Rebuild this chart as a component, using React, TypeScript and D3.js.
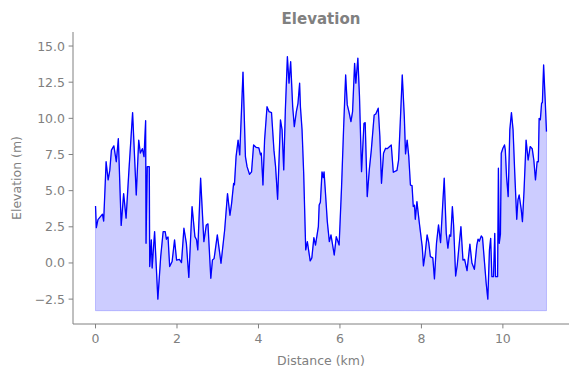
import React from "react";
import * as d3 from "d3";

const distanceKm = [
  0.0, 0.02, 0.06, 0.12, 0.17, 0.2, 0.26, 0.31, 0.35, 0.39, 0.45, 0.51, 0.56, 0.63, 0.69, 0.75, 0.82, 0.91, 1.0, 1.06,
  1.1, 1.15, 1.19, 1.23, 1.24, 1.27, 1.32, 1.33, 1.37, 1.39, 1.45, 1.53, 1.6, 1.66, 1.71, 1.74, 1.78, 1.82, 1.88, 1.94,
  1.99, 2.06, 2.11, 2.17, 2.23, 2.29, 2.37, 2.44, 2.48, 2.51, 2.58, 2.66, 2.72, 2.76, 2.83, 2.87, 2.91, 2.94, 2.99, 3.08,
  3.17, 3.24, 3.3, 3.34, 3.39, 3.41, 3.45, 3.5, 3.54, 3.62, 3.68, 3.72, 3.78, 3.83, 3.88, 3.94, 4.01, 4.05, 4.07, 4.11,
  4.15, 4.21, 4.26, 4.32, 4.38, 4.42, 4.47, 4.54, 4.58, 4.62, 4.66, 4.71, 4.75, 4.79, 4.84, 4.88, 4.93, 4.97, 5.01, 5.03,
  5.07, 5.11, 5.16, 5.2, 5.27, 5.31, 5.36, 5.4, 5.47, 5.49, 5.52, 5.56, 5.59, 5.61, 5.64, 5.69, 5.74, 5.78, 5.86, 5.91,
  5.98, 6.04, 6.09, 6.14, 6.18, 6.22, 6.27, 6.31, 6.36, 6.39, 6.44, 6.48, 6.53, 6.59, 6.62, 6.67, 6.72, 6.77, 6.84, 6.88,
  6.94, 6.98, 7.02, 7.07, 7.12, 7.16, 7.2, 7.24, 7.26, 7.31, 7.4, 7.44, 7.48, 7.53, 7.58, 7.61, 7.65, 7.69, 7.73, 7.77,
  7.8, 7.83, 7.85, 7.89, 7.95, 8.02, 8.05, 8.09, 8.14, 8.18, 8.22, 8.28, 8.32, 8.37, 8.42, 8.47, 8.52, 8.56, 8.61, 8.65,
  8.69, 8.72, 8.76, 8.79, 8.84, 8.88, 8.93, 8.97, 9.02, 9.06, 9.12, 9.19, 9.24, 9.3, 9.36, 9.39, 9.42, 9.47, 9.5, 9.55,
  9.59, 9.63, 9.67, 9.7, 9.73, 9.77, 9.8, 9.82, 9.87, 9.89, 9.91, 9.94, 9.96, 10.0, 10.04, 10.06, 10.09, 10.13, 10.17, 10.21,
  10.25, 10.29, 10.34, 10.37, 10.4, 10.45, 10.48, 10.52, 10.57, 10.62, 10.67, 10.72, 10.76, 10.8, 10.84, 10.87, 10.89, 10.92, 10.95, 10.97,
  11.0, 11.04, 11.07,
];

const elevationM = [
  3.94, 2.44, 3.0, 3.2, 3.37, 2.9, 7.0, 5.74, 6.4, 7.8, 8.1, 7.0, 8.6, 2.6, 4.8, 3.1, 6.4, 10.4, 4.7, 8.5,
  7.6, 7.9, 7.35, 9.84, 1.36, 6.66, 6.66, -0.25, 1.6, -0.35, 2.17, -2.5, 0.44, 2.17, 2.17, 1.64, 1.8, -0.25, 0.1, 1.6,
  0.2, 0.25, 0.02, 2.4, 1.36, -1.0, 3.9, 1.82, 1.6, 0.9, 5.86, 1.47, 2.63, 2.7, -1.06, 0.2, 0.3, 0.9, 1.94, -0.02,
  2.28, 4.8, 3.3, 4.1, 5.5, 5.4, 7.35, 8.5, 7.47, 13.2, 7.35, 6.66, 6.13, 6.3, 8.16, 8.0, 7.95, 7.47, 7.6, 5.39,
  8.5, 10.8, 10.46, 10.4, 7.8, 6.66, 4.4, 9.9, 9.2, 6.43, 10.58, 14.27, 12.43, 13.92, 10.8, 9.43, 10.46, 11.04, 12.43, 10.8,
  9.2, 6.2, 0.9, 1.47, 0.14, 0.35, 1.75, 1.24, 2.51, 4.0, 4.2, 6.3, 5.9, 6.3, 5.05, 2.86, 1.47, 1.94, 0.55, 1.82,
  1.24, 5.28, 9.31, 13.0, 10.93, 10.46, 9.77, 10.46, 13.8, 12.43, 14.16, 11.5, 6.31, 9.66, 9.7, 4.59, 6.43, 7.8, 10.23, 10.3,
  10.7, 8.74, 5.51, 7.59, 7.93, 7.9, 8.0, 8.1, 8.16, 6.27, 6.4, 7.12, 9.66, 13.0, 10.12, 7.54, 8.5, 7.35, 5.39, 5.35,
  3.9, 4.0, 3.02, 4.24, 2.74, 1.13, -0.2, 0.6, 1.94, 1.4, 0.44, 0.35, -1.1, 1.36, 2.63, 1.4, 3.9, 5.86, 2.05, 1.02,
  1.94, 1.85, 3.9, 2.63, -0.9, -0.14, 1.36, 2.51, 0.2, 0.25, -0.53, 1.3, 0.0, -0.44, 1.24, 1.65, 1.5, 1.87, 1.75, 0.0,
  -1.4, -2.5, 0.9, 1.7, -0.95, -0.95, 2.05, -0.95, -0.95, 6.55, 1.36, 2.0, 7.59, 7.93, 8.16, 7.8, 5.97, 4.59, 9.2, 10.4,
  9.2, 6.31, 3.02, 4.36, 4.7, 3.7, 2.86, 5.05, 8.5, 7.12, 8.05, 7.9, 7.1, 5.74, 7.0, 7.0, 10.0, 9.9, 11.04, 11.1,
  13.69, 11.16, 9.08,
];

const fillBaseline = -3.3;
const xTicks = [0, 2, 4, 6, 8, 10];
const yTicks = [-2.5, 0, 2.5, 5, 7.5, 10, 12.5, 15];
const titleText = "Elevation";
const xLabel = "Distance (km)";
const yLabel = "Elevation (m)";

const W = 578;
const H = 378;
const M = { left: 73, right: 569, top: 32, bottom: 324 };
const GRAY = "#808080";
const FONT = "DejaVu Sans, sans-serif";

export default function App() {
  const data = distanceKm.map((d, i) => ({ x: d, y: elevationM[i] }));
  const x = d3.scaleLinear().domain([-0.553, 11.623]).range([M.left, M.right]);
  const y = d3.scaleLinear().domain([-4.22, 15.97]).range([M.bottom, M.top]);

  const area = d3
    .area<{ x: number; y: number }>()
    .x((d) => x(d.x))
    .y0(y(fillBaseline))
    .y1((d) => y(d.y));
  const line = d3
    .line<{ x: number; y: number }>()
    .x((d) => x(d.x))
    .y((d) => y(d.y));

  const fmtY = (v: number) => v.toFixed(1).replace("-", "\u2212");

  return (
    <div style={{ position: "fixed", left: 0, top: 0 }}>
      <svg width={W} height={H} style={{ display: "block", background: "#fff" }}>
        <path d={area(data) || ""} fill="#0000ff" fillOpacity={0.2} stroke="#0000ff" strokeOpacity={0.2} strokeWidth={1} />
        <path d={line(data) || ""} fill="none" stroke="#0000ff" strokeWidth={1.3} strokeLinejoin="round" />

        <line x1={M.left} x2={M.left} y1={M.top} y2={M.bottom} stroke={GRAY} strokeWidth={1} />
        <line x1={M.left} x2={M.right} y1={M.bottom} y2={M.bottom} stroke={GRAY} strokeWidth={1} />

        {xTicks.map((t) => (
          <g key={"x" + t}>
            <line x1={x(t)} x2={x(t)} y1={M.bottom} y2={M.bottom + 4.4} stroke={GRAY} strokeWidth={1} />
            <text x={x(t)} y={M.bottom + 19} textAnchor="middle" fontFamily={FONT} fontSize={12.5} fill={GRAY}>
              {t}
            </text>
          </g>
        ))}
        {yTicks.map((t) => (
          <g key={"y" + t}>
            <line x1={M.left - 4.4} x2={M.left} y1={y(t)} y2={y(t)} stroke={GRAY} strokeWidth={1} />
            <text x={M.left - 8} y={y(t)} dy="0.36em" textAnchor="end" fontFamily={FONT} fontSize={12.5} fill={GRAY}>
              {fmtY(t)}
            </text>
          </g>
        ))}

        <text x={(M.left + M.right) / 2} y={24} textAnchor="middle" fontFamily={FONT} fontSize={15} fontWeight="bold" fill={GRAY}>
          {titleText}
        </text>
        <text x={(M.left + M.right) / 2} y={365} textAnchor="middle" fontFamily={FONT} fontSize={12.5} fill={GRAY}>
          {xLabel}
        </text>
        <text
          transform={`translate(21, ${(M.top + M.bottom) / 2}) rotate(-90)`}
          textAnchor="middle"
          fontFamily={FONT}
          fontSize={12.5}
          fill={GRAY}
        >
          {yLabel}
        </text>
      </svg>
    </div>
  );
}
